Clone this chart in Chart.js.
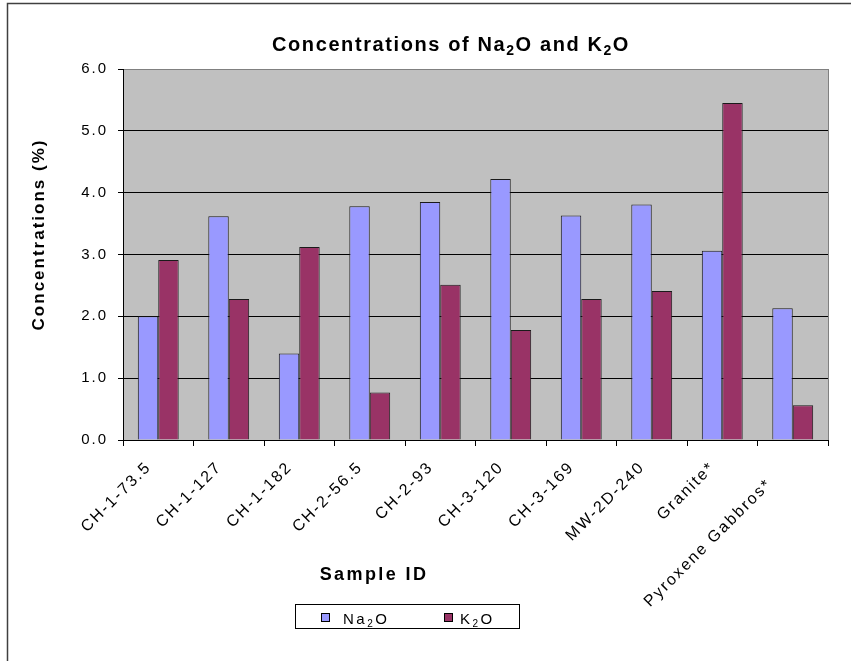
<!DOCTYPE html>
<html>
<head>
<meta charset="utf-8">
<script src="https://cdn.jsdelivr.net/npm/chart.js@4/dist/chart.umd.min.js"></script>
<style>
  html, body { margin: 0; padding: 0; background: #ffffff; }
  #wrap { width: 851px; height: 661px; }
</style>
</head>
<body>
<div id="wrap"><canvas id="c" width="851" height="661"></canvas></div>
<script>
// Sample identifiers along the category axis
const sampleIds = ['CH-1-73.5', 'CH-1-127', 'CH-1-182', 'CH-2-56.5', 'CH-2-93',
  'CH-3-120', 'CH-3-169', 'MW-2D-240', 'Granite*', 'Pyroxene Gabbros*   '];

// Oxide concentrations (%)
const na2o = [2.00, 3.62, 1.40, 3.78, 3.85, 4.22, 3.63, 3.81, 3.06, 2.13];
const k2o  = [2.91, 2.28, 3.12, 0.77, 2.51, 1.78, 2.28, 2.41, 5.45, 0.56];

// Value axis range and step
const yMin = 0;
const yMax = 6;
const yStep = 1;

const FONT = '"Liberation Sans", Arial, sans-serif';
const NA_COLOR = '#9999FF';
const K_COLOR = '#993366';

// Draws a run of text pieces, some of them as subscripts
function richWidth(ctx, parts, size, weight, spacing) {
  let w = 0;
  for (const p of parts) {
    const s = p.sub ? Math.round(size * 0.68) : size;
    ctx.font = weight + ' ' + s + 'px ' + FONT;
    ctx.letterSpacing = spacing + 'px';
    w += ctx.measureText(p.t).width;
  }
  return w;
}
function drawRich(ctx, parts, x, y, size, weight, spacing, align) {
  const total = richWidth(ctx, parts, size, weight, spacing);
  let cx = align === 'center' ? x - total / 2 : x;
  ctx.textAlign = 'left';
  ctx.textBaseline = 'alphabetic';
  for (const p of parts) {
    const s = p.sub ? Math.round(size * 0.68) : size;
    ctx.font = weight + ' ' + s + 'px ' + FONT;
    ctx.letterSpacing = spacing + 'px';
    ctx.fillText(p.t, cx, p.sub ? y + size * 0.22 : y);
    cx += ctx.measureText(p.t).width;
  }
}

const decorations = {
  id: 'decorations',
  beforeDraw(chart) {
    const { ctx, chartArea: a } = chart;
    ctx.save();
    ctx.fillStyle = '#C0C0C0';
    ctx.fillRect(a.left, a.top, a.right - a.left, a.bottom - a.top);
    ctx.restore();
    // tick labels are set with wide tracking
    ctx.letterSpacing = '2px';
  },
  afterDatasetsDraw(chart) {
    const { ctx, chartArea: a } = chart;
    ctx.save();
    ctx.letterSpacing = '0px';
    // right edge of the plot frame
    ctx.strokeStyle = '#808080';
    ctx.lineWidth = 1;
    ctx.beginPath();
    ctx.moveTo(Math.round(a.right) + 0.5, a.top);
    ctx.lineTo(Math.round(a.right) + 0.5, a.bottom);
    ctx.stroke();
    ctx.restore();
  },
  afterDraw(chart) {
    const { ctx } = chart;
    ctx.save();
    ctx.letterSpacing = '0px';
    // outer frame of the chart
    ctx.strokeStyle = '#404040';
    ctx.lineWidth = 1.5;
    ctx.beginPath();
    ctx.moveTo(7.5, 661);
    ctx.lineTo(7.5, 3.5);
    ctx.lineTo(851, 3.5);
    ctx.stroke();

    ctx.fillStyle = '#000000';
    // title
    drawRich(ctx, [{ t: 'Concentrations of Na' }, { t: '2', sub: true }, { t: 'O and K' },
      { t: '2', sub: true }, { t: 'O' }], 451, 51, 20, 'bold', 1.6, 'center');

    // axis titles
    drawRich(ctx, [{ t: 'Sample ID' }], 374, 580, 18, 'bold', 2.4, 'center');
    ctx.save();
    ctx.translate(44, 234.5);
    ctx.rotate(-Math.PI / 2);
    drawRich(ctx, [{ t: 'Concentrations (%)' }], 0, 0, 17, 'bold', 2, 'center');
    ctx.restore();

    // legend
    const ds = chart.data.datasets;
    ctx.fillStyle = '#ffffff';
    ctx.fillRect(295.5, 604.5, 224, 24);
    ctx.strokeStyle = '#000000';
    ctx.lineWidth = 1;
    ctx.strokeRect(295.5, 604.5, 224, 24);
    const items = [
      { x: 321, tx: 343, parts: [{ t: 'Na' }, { t: '2', sub: true }, { t: 'O' }], color: ds[0].backgroundColor },
      { x: 444, tx: 460, parts: [{ t: 'K' }, { t: '2', sub: true }, { t: 'O' }], color: ds[1].backgroundColor }
    ];
    for (const it of items) {
      ctx.fillStyle = it.color;
      ctx.fillRect(it.x + 0.5, 613.5, 8, 8);
      ctx.strokeStyle = '#000000';
      ctx.strokeRect(it.x + 0.5, 613.5, 8, 8);
      ctx.fillStyle = '#000000';
      drawRich(ctx, it.parts, it.tx, 624, 15, 'normal', 2.5, 'left');
    }
    ctx.restore();
  }
};

new Chart(document.getElementById('c'), {
  type: 'bar',
  data: {
    labels: sampleIds,
    datasets: [
      { label: 'Na2O', data: na2o, backgroundColor: NA_COLOR, borderColor: '#1a1a1a', borderWidth: 1,
        barPercentage: 1, categoryPercentage: 0.58 },
      { label: 'K2O', data: k2o, backgroundColor: K_COLOR, borderColor: '#1a1a1a', borderWidth: 1,
        barPercentage: 1, categoryPercentage: 0.58 }
    ]
  },
  options: {
    responsive: false,
    animation: false,
    devicePixelRatio: 1,
    layout: { padding: { top: 69, right: 23, left: 0, bottom: 0 } },
    plugins: {
      legend: { display: false },
      title: { display: false },
      tooltip: { enabled: false }
    },
    scales: {
      x: {
        grid: { display: true, drawOnChartArea: false, drawTicks: true, tickLength: 6,
          color: '#000000', offset: true },
        border: { display: true, color: '#000000', width: 1 },
        ticks: {
          autoSkip: false, maxRotation: 45, minRotation: 45,
          color: '#000000',
          font: (c) => ({ family: FONT, size: 16, lineHeight: c.index === sampleIds.length - 1 ? 1.775 : 1.2 }),
          padding: 12, labelOffset: -9.5
        },
        afterFit(scale) { scale.height = 221; }
      },
      y: {
        min: yMin, max: yMax,
        grid: {
          color: (c) => (c.tick && c.tick.value === yMax ? '#808080' : '#000000'),
          tickColor: '#000000', tickLength: 5, drawTicks: true, lineWidth: 1
        },
        border: { display: true, color: '#000000', width: 1 },
        ticks: {
          stepSize: yStep, color: '#000000', padding: 10,
          font: { family: FONT, size: 15 },
          callback: (v) => Number(v).toFixed(1)
        },
        afterFit(scale) { scale.width = 123; }
      }
    }
  },
  plugins: [decorations]
});
</script>
</body>
</html>
